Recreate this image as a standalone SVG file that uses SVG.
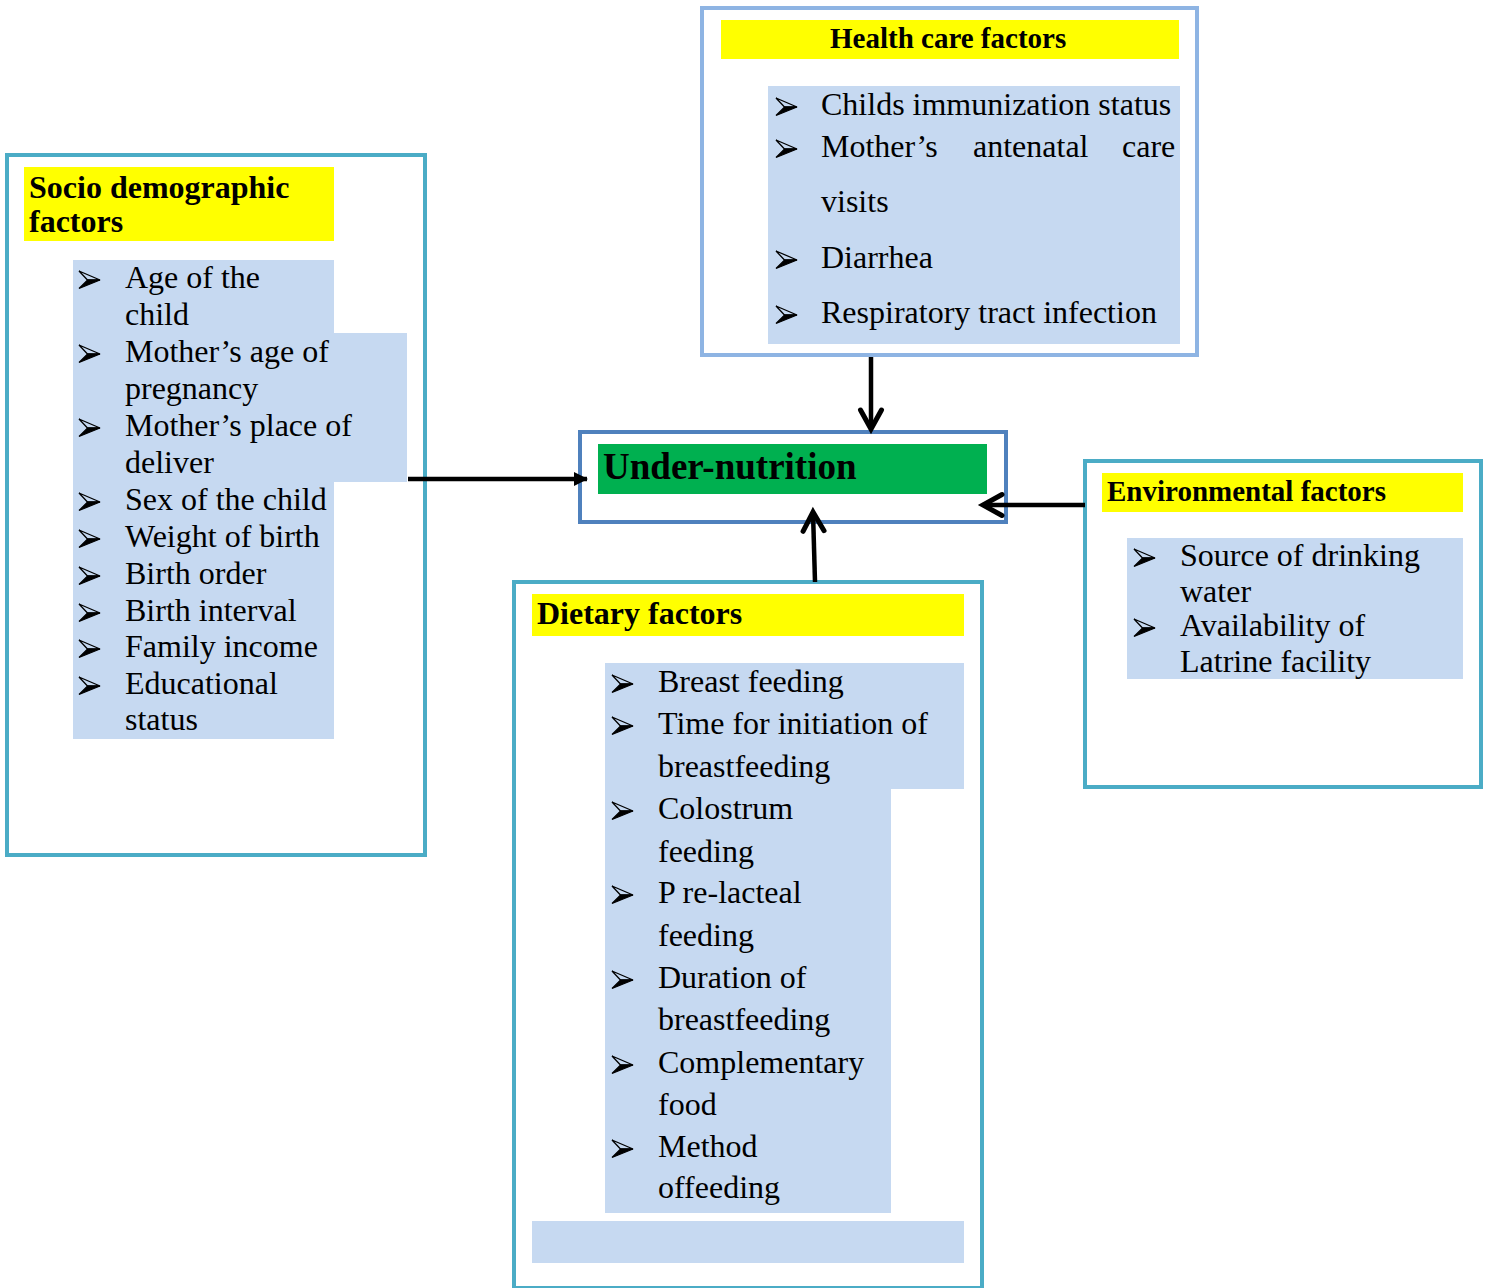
<svg xmlns="http://www.w3.org/2000/svg" xmlns:xlink="http://www.w3.org/1999/xlink" width="1489" height="1288" viewBox="0 0 1489 1288">
<style>
.frame{fill:#fff;stroke-width:4}
.teal{stroke:#4BACC6}
.lblue{stroke:#8EB4E3}
.dblue{stroke:#4F81BD}
.yel{fill:#FFFF00}
.hl{fill:#C6D9F1}
.h{font-family:"Liberation Serif","Times New Roman",serif;font-weight:bold;fill:#000}
.t{font-family:"Liberation Serif","Times New Roman",serif;font-size:32px;fill:#000}
.conn{stroke:#000;stroke-width:4.5;fill:none}
</style>
<defs>
<g id="b">
<polygon points="0,-17 21,-8 8.5,-8" fill="none" stroke="#000" stroke-width="1.3" stroke-linejoin="miter"/>
<polygon points="8.5,-8 21,-8 0,0.5" fill="#000" stroke="#000" stroke-width="1.2"/>
</g>
<marker id="chev" markerUnits="userSpaceOnUse" markerWidth="40" markerHeight="40" refX="0" refY="0" orient="auto" overflow="visible">
<path d="M -19,-10.5 L 0,0 L -19,10.5" fill="none" stroke="#000" stroke-width="5" stroke-linecap="round" stroke-linejoin="miter"/>
</marker>
<marker id="tri" markerUnits="userSpaceOnUse" markerWidth="40" markerHeight="40" refX="0" refY="0" orient="auto" overflow="visible">
<path d="M -13,-7 L 1,0 L -13,7 Z" fill="#000"/>
</marker>
</defs>

<!-- Socio demographic factors -->
<g id="socio">
<rect class="frame teal" x="7" y="155" width="418" height="700"/>
<rect class="yel" x="24" y="167" width="310" height="74"/>
<text class="h" font-size="32" x="29" y="198">Socio demographic</text>
<text class="h" font-size="32" x="29" y="232">factors</text>
<path class="hl" d="M73,260 H334 V333 H407 V482 H334 V739 H73 Z"/>
<use href="#b" x="79" y="288"/><text class="t" x="125" y="288">Age of the</text>
<text class="t" x="125" y="325">child</text>
<use href="#b" x="79" y="362"/><text class="t" x="125" y="362">Mother’s age of</text>
<text class="t" x="125" y="399">pregnancy</text>
<use href="#b" x="79" y="436"/><text class="t" x="125" y="436">Mother’s place of</text>
<text class="t" x="125" y="473">deliver</text>
<use href="#b" x="79" y="510"/><text class="t" x="125" y="510">Sex of the child</text>
<use href="#b" x="79" y="547"/><text class="t" x="125" y="547">Weight of birth</text>
<use href="#b" x="79" y="584"/><text class="t" x="125" y="584">Birth order</text>
<use href="#b" x="79" y="621"/><text class="t" x="125" y="621">Birth interval</text>
<use href="#b" x="79" y="657"/><text class="t" x="125" y="657">Family income</text>
<use href="#b" x="79" y="694"/><text class="t" x="125" y="694">Educational</text>
<text class="t" x="125" y="730">status</text>
</g>

<!-- Health care factors -->
<g id="health">
<rect class="frame lblue" x="702" y="8" width="495" height="347"/>
<rect class="yel" x="721" y="20" width="458" height="39"/>
<text class="h" font-size="29" x="830" y="48">Health care factors</text>
<rect class="hl" x="768" y="86" width="412" height="258"/>
<use href="#b" x="776" y="115"/><text class="t" x="821" y="115">Childs immunization status</text>
<use href="#b" x="776" y="157"/><text class="t" x="821" y="157">Mother’s</text>
<text class="t" x="973" y="157">antenatal</text>
<text class="t" x="1122" y="157">care</text>
<text class="t" x="821" y="212">visits</text>
<use href="#b" x="776" y="268"/><text class="t" x="821" y="268">Diarrhea</text>
<use href="#b" x="776" y="323"/><text class="t" x="821" y="323">Respiratory tract infection</text>
</g>

<!-- Under-nutrition -->
<g id="undernutrition">
<rect class="frame dblue" x="580" y="432" width="426" height="90"/>
<rect x="598" y="444" width="389" height="50" fill="#00B050"/>
<text class="h" font-size="37" x="603" y="479">Under-nutrition</text>
</g>

<!-- Environmental factors -->
<g id="environmental">
<rect class="frame teal" x="1085" y="461" width="396" height="326"/>
<rect class="yel" x="1102" y="473" width="361" height="39"/>
<text class="h" font-size="29" x="1107" y="501">Environmental factors</text>
<rect class="hl" x="1127" y="538" width="336" height="141"/>
<use href="#b" x="1134" y="566"/><text class="t" x="1180" y="566">Source of drinking</text>
<text class="t" x="1180" y="602">water</text>
<use href="#b" x="1134" y="636"/><text class="t" x="1180" y="636">Availability of</text>
<text class="t" x="1180" y="672">Latrine facility</text>
</g>

<!-- Dietary factors -->
<g id="dietary">
<rect class="frame teal" x="514" y="582" width="468" height="706"/>
<rect class="yel" x="532" y="594" width="432" height="42"/>
<text class="h" font-size="32" x="537" y="624">Dietary factors</text>
<path class="hl" d="M605,663 H964 V789 H891 V1213 H605 Z"/>
<rect class="hl" x="532" y="1221" width="432" height="42"/>
<use href="#b" x="612" y="692"/><text class="t" x="658" y="692">Breast feeding</text>
<use href="#b" x="612" y="734"/><text class="t" x="658" y="734">Time for initiation of</text>
<text class="t" x="658" y="777">breastfeeding</text>
<use href="#b" x="612" y="819"/><text class="t" x="658" y="819">Colostrum</text>
<text class="t" x="658" y="862">feeding</text>
<use href="#b" x="612" y="903"/><text class="t" x="658" y="903">P re-lacteal</text>
<text class="t" x="658" y="946">feeding</text>
<use href="#b" x="612" y="988"/><text class="t" x="658" y="988">Duration of</text>
<text class="t" x="658" y="1030">breastfeeding</text>
<use href="#b" x="612" y="1073"/><text class="t" x="658" y="1073">Complementary</text>
<text class="t" x="658" y="1115">food</text>
<use href="#b" x="612" y="1157"/><text class="t" x="658" y="1157">Method</text>
<text class="t" x="658" y="1198">offeeding</text>
</g>

<!-- Connectors -->
<g id="connectors">
<path class="conn" d="M408,479 H587" marker-end="url(#tri)"/>
<path class="conn" d="M871,357 V429" marker-end="url(#chev)"/>
<path class="conn" d="M1085,505 H983" marker-end="url(#chev)"/>
<path class="conn" d="M815,582 L813,512" marker-end="url(#chev)"/>
</g>
</svg>
